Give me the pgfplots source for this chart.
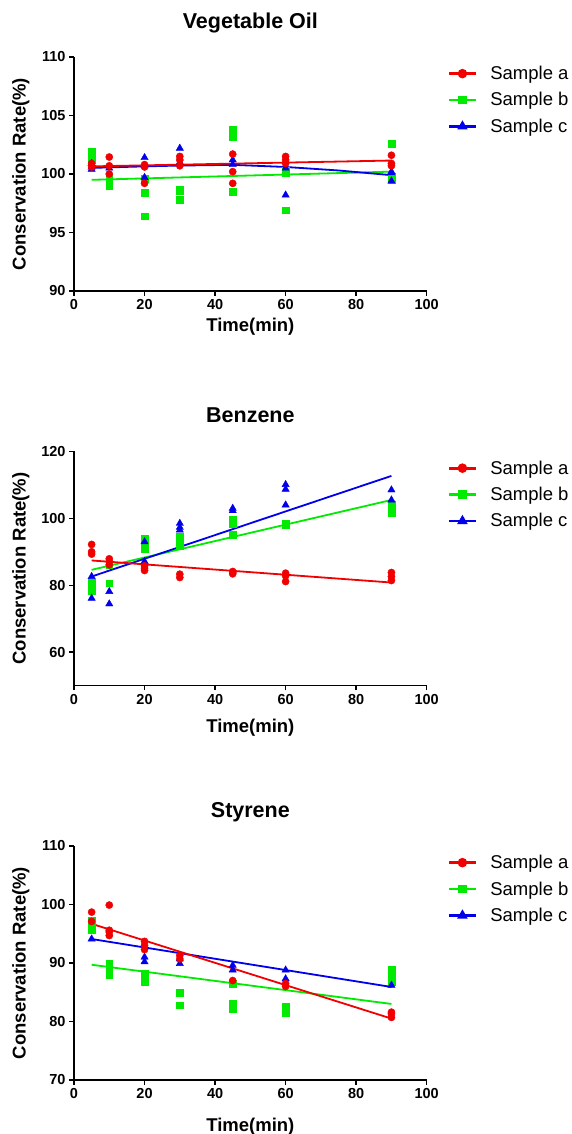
\documentclass[border=0pt]{standalone}
\usepackage{fontspec}
\setmainfont{Liberation Sans}
\usepackage{pgfplots}
\pgfplotsset{compat=1.18}
\definecolor{cR}{RGB}{240,0,0}
\definecolor{cG}{RGB}{0,235,0}
\definecolor{cB}{RGB}{0,0,235}
\pgfplotsset{
  panel/.style={
    scale only axis, width=352.7pt, height=234pt, anchor=south west,
    axis lines=left, axis line style={-, line width=1.5pt, black},
    tick align=outside, major tick length=5pt,
    tick style={line width=1.4pt, black},
    xmin=0, xmax=100, xtick={0,20,...,100},
    /pgf/number format/assume math mode=true,
    tick label style={font=\bfseries\fontsize{14.5}{16}\selectfont},
    xlabel={Time(min)}, ylabel={Conservation Rate(\%)},
    label style={font=\bfseries\fontsize{18.5}{22}\selectfont},
    ylabel style={at={(axis description cs:-0.1375,0.5)}, anchor=base},
    legend style={at={(axis description cs:1.05,1.0)}, anchor=north west,
      yshift=-5pt,
      draw=none, fill=none, font=\fontsize{18.5}{21}\selectfont,
      row sep=7.5pt, legend cell align=left,
      /tikz/every odd column/.append style={column sep=11pt}},
    legend image code/.code={\draw[##1, mark repeat=2, mark phase=2]
      plot coordinates {(0pt,0pt) (13.5pt,0pt) (27pt,0pt)};},
  },
  sa/.style={only marks, mark=*, mark size=3.6pt, color=cR, forget plot},
  sb/.style={only marks, mark=square*, mark size=3.4pt, color=cG, forget plot},
  sc/.style={only marks, mark=triangle*, mark size=4.2pt, color=cB, forget plot},
  la/.style={no marks, line width=1.8pt, color=cR, forget plot},
  lb/.style={no marks, line width=1.8pt, color=cG, forget plot},
  lc/.style={no marks, line width=1.8pt, color=cB, forget plot},
}
\newcommand{\legendset}{%
  \addlegendimage{cR, line width=2.8pt, mark=*, mark size=3.3pt}
  \addlegendentry{Sample a}
  \addlegendimage{cG, line width=2.8pt, mark=square*, mark size=3pt}
  \addlegendentry{Sample b}
  \addlegendimage{cB, line width=2.8pt, mark=triangle*, mark size=3.3pt}
  \addlegendentry{Sample c}
}
\begin{document}
\begin{tikzpicture}
\useasboundingbox (0,0) rectangle (571pt,1134pt);
% ---------------- Vegetable Oil ----------------
\begin{axis}[panel, name=ax1, at={(74pt,843pt)},
  ymin=90, ymax=110, ytick={90,95,...,110},
  xlabel style={at={(axis description cs:0.5,0)}, anchor=base, yshift=-41pt}]
\legendset
\addplot[sb] coordinates {(5,101.9)(5,101.6)(5,101.2)(10,99.4)(10,99.0)(10,99.6)(20,99.6)(20,98.4)(20,96.4)(30,98.7)(30,97.8)(30,98.6)(45,103.8)(45,103.2)(45,98.5)(60,100.1)(60,96.9)(60,100.3)(90,102.6)(90,99.8)(90,99.5)};
\addplot[sc] coordinates {(5,100.4)(5,100.9)(5,100.6)(10,100.5)(20,101.4)(20,99.7)(20,100.7)(30,102.2)(30,101.0)(45,101.2)(45,100.8)(60,98.2)(60,100.5)(90,100.1)(90,99.4)(90,100.2)};
\addplot[sa] coordinates {(5,100.9)(5,100.7)(5,100.6)(10,101.45)(10,100.7)(10,100.0)(20,99.2)(20,100.6)(20,100.8)(30,101.5)(30,101.2)(30,100.7)(45,101.7)(45,100.2)(45,99.2)(60,101.5)(60,101.2)(60,100.9)(90,101.6)(90,100.9)(90,100.7)};
\addplot[lb] coordinates {(5,99.5)(90,100.2)};
\addplot[lc] coordinates {(5,100.52)(20,100.65)(30,100.72)(45,100.78)(60,100.6)(75,100.3)(90,99.9)};
\addplot[la] coordinates {(5,100.65)(90,101.15)};
\end{axis}
\node[font=\bfseries\fontsize{21.5}{25}\selectfont, anchor=base] at ([yshift=28.5pt]ax1.north) {Vegetable Oil};
% ---------------- Benzene ----------------
\begin{axis}[panel, name=ax2, at={(74pt,448.5pt)},
  ymin=50, ymax=120, ytick={60,80,...,120},
  xlabel style={at={(axis description cs:0.5,0)}, anchor=base, yshift=-47pt}]
\legendset
\addplot[sb] coordinates {(5,80.8)(5,79.6)(5,78.4)(10,80.6)(10,86.1)(20,94.0)(20,91.0)(20,91.7)(30,94.5)(30,93.2)(30,91.7)(45,99.5)(45,98.5)(45,95.0)(60,98.2)(60,98.5)(90,104.0)(90,102.7)(90,101.7)};
\addplot[sc] coordinates {(5,76.1)(5,82.6)(10,78.1)(10,74.4)(20,93.0)(20,87.1)(30,98.5)(30,97.3)(30,96.5)(45,103.0)(45,102.3)(60,110.1)(60,108.7)(60,104.0)(90,108.5)(90,105.5)};
\addplot[sa] coordinates {(5,92.2)(5,90.0)(5,89.3)(10,87.9)(10,87.1)(10,86.1)(20,85.1)(20,84.4)(20,85.8)(30,83.3)(30,82.3)(45,84.1)(45,83.4)(45,83.8)(60,83.6)(60,81.1)(60,82.8)(90,83.8)(90,82.6)(90,81.4)};
\addplot[lb] coordinates {(5,84.6)(90,105.5)};
\addplot[lc] coordinates {(5,82.6)(90,112.7)};
\addplot[la] coordinates {(5,87.4)(90,80.8)};
\end{axis}
\node[font=\bfseries\fontsize{21.5}{25}\selectfont, anchor=base] at ([yshift=29pt]ax2.north) {Benzene};
% ---------------- Styrene ----------------
\begin{axis}[panel, name=ax3, at={(74pt,54pt)},
  ymin=70, ymax=110, ytick={70,80,...,110},
  xlabel style={at={(axis description cs:0.5,0)}, anchor=base, yshift=-51pt}]
\legendset
\addplot[sb] coordinates {(5,97.3)(5,96.4)(5,95.6)(10,89.9)(10,88.8)(10,87.9)(20,87.6)(20,86.8)(20,88.2)(30,84.9)(30,82.8)(45,86.5)(45,83.1)(45,82.1)(60,82.5)(60,81.5)(90,88.8)(90,87.6)(90,86.8)};
\addplot[sc] coordinates {(5,94.1)(20,91.0)(20,90.2)(30,89.9)(30,90.7)(45,89.6)(45,88.8)(60,88.8)(60,87.3)(90,86.2)};
\addplot[sa] coordinates {(5,98.7)(5,97.1)(10,99.9)(10,95.6)(10,94.7)(10,95.3)(20,93.7)(20,93.0)(20,92.3)(30,91.3)(30,90.7)(45,87.0)(60,86.5)(60,86.0)(90,81.6)(90,81.3)(90,80.7)};
\addplot[lb] coordinates {(5,89.7)(90,83.0)};
\addplot[lc] coordinates {(5,94.1)(90,85.9)};
\addplot[la] coordinates {(5,96.7)(90,80.5)};
\end{axis}
\node[font=\bfseries\fontsize{21.5}{25}\selectfont, anchor=base] at ([yshift=28.7pt]ax3.north) {Styrene};
\end{tikzpicture}
\end{document}
